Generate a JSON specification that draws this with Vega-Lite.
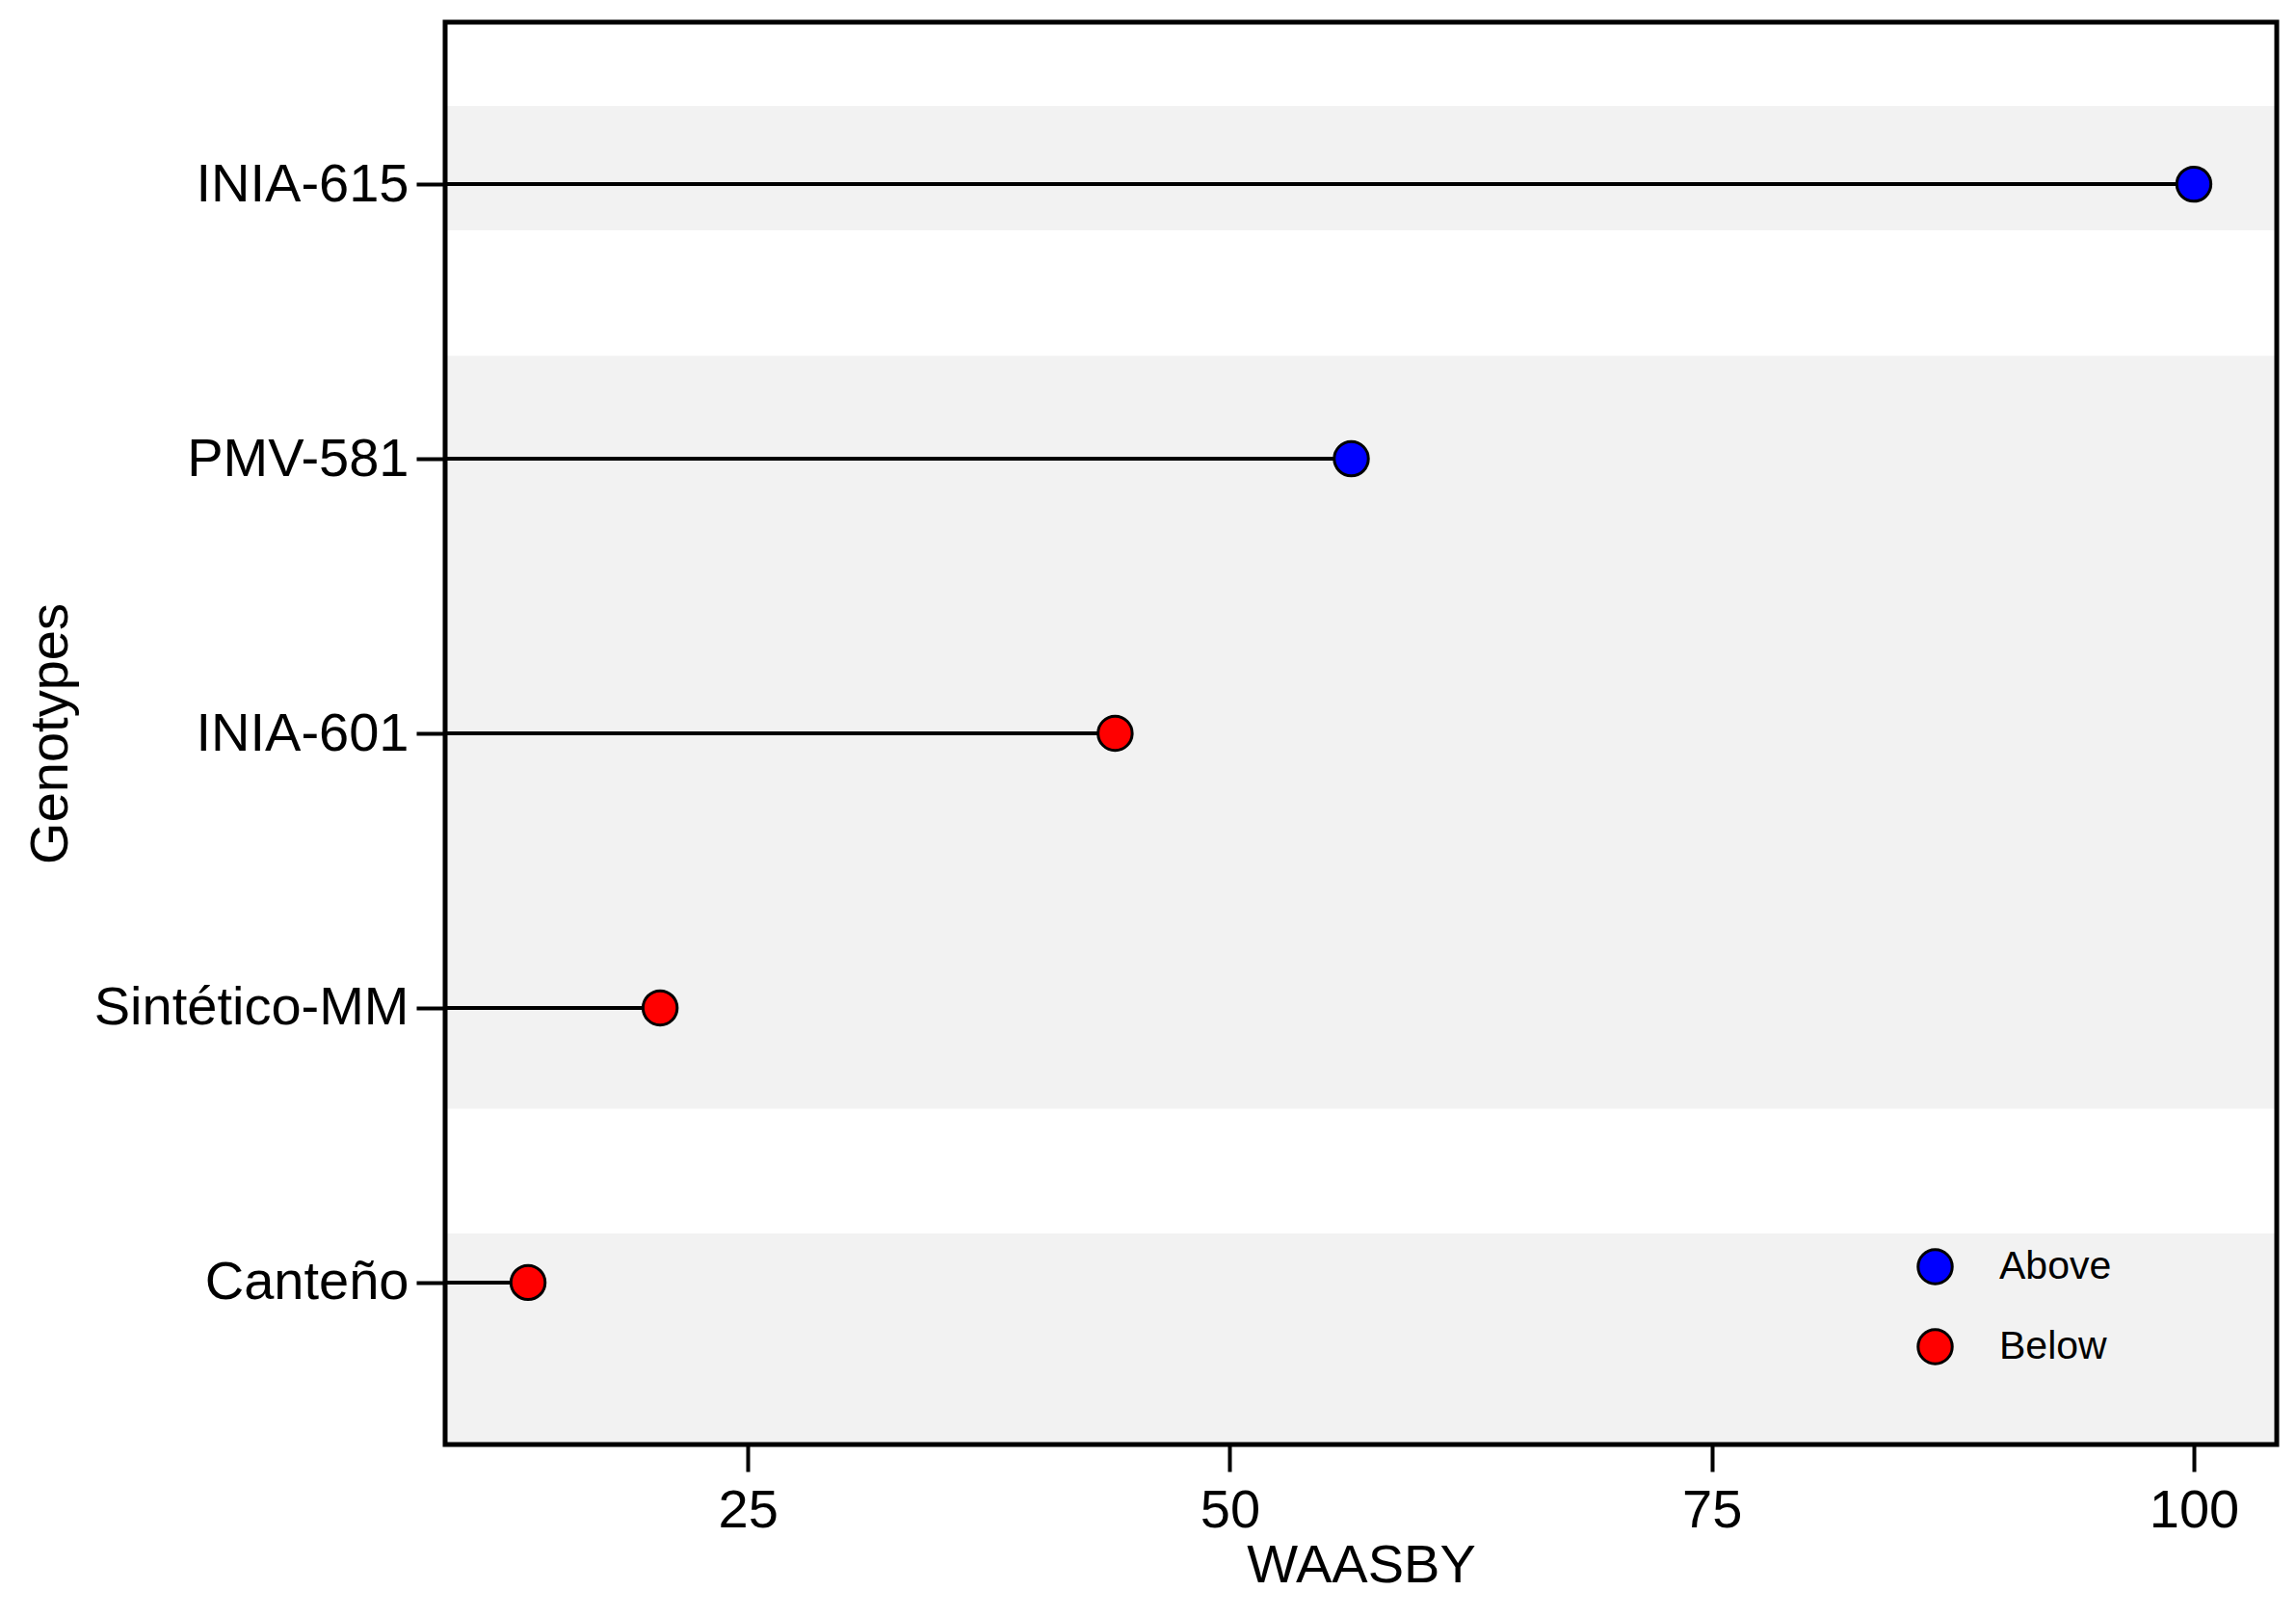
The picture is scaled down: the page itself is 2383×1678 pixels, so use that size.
{
  "$schema": "https://vega.github.io/schema/vega-lite/v6.json",
  "width": 1901,
  "height": 1476,
  "autosize": "none",
  "padding": {"left": 462, "top": 23, "right": 20, "bottom": 179},
  "background": "white",
  "config": {
    "view": {"stroke": null},
    "font": "Liberation Sans",
    "axis": {
      "domain": false,
      "grid": false,
      "tickColor": "black",
      "tickWidth": 4,
      "labelColor": "black",
      "titleColor": "black",
      "labelFont": "Liberation Sans",
      "titleFont": "Liberation Sans",
      "labelFontSize": 56,
      "titleFontSize": 56,
      "titleFontWeight": "normal",
      "labelLimit": 1000
    },
    "legend": {
      "orient": "none",
      "legendX": 1526,
      "legendY": 1271,
      "padding": 0,
      "symbolType": "circle",
      "symbolSize": 1257,
      "symbolStrokeColor": "black",
      "symbolStrokeWidth": 3,
      "labelFont": "Liberation Sans",
      "labelFontSize": 41,
      "labelColor": "black",
      "labelOffset": 46,
      "rowPadding": 34
    }
  },
  "datasets": {
    "geno": [
      {"Genotype": "INIA-615", "WAASBY": 100, "Group": "Above"},
      {"Genotype": "PMV-581", "WAASBY": 56.3, "Group": "Above"},
      {"Genotype": "INIA-601", "WAASBY": 44.05, "Group": "Below"},
      {"Genotype": "Sintético-MM", "WAASBY": 20.45, "Group": "Below"},
      {"Genotype": "Canteño", "WAASBY": 13.6, "Group": "Below"}
    ],
    "bands": [
      {"ymin": 4.832, "ymax": 5.285},
      {"ymin": 1.633, "ymax": 4.375},
      {"ymin": 0.2, "ymax": 1.179}
    ]
  },
  "layer": [
    {
      "data": {"name": "bands"},
      "mark": {"type": "rect", "color": "#f2f2f2", "clip": true},
      "encoding": {
        "y": {"field": "ymin", "type": "quantitative", "scale": {"domain": [0.41, 5.59], "nice": false, "zero": false}, "axis": null},
        "y2": {"field": "ymax"}
      }
    },
    {
      "data": {"name": "geno"},
      "encoding": {
        "y": {
          "field": "Genotype",
          "type": "nominal",
          "sort": ["INIA-615", "PMV-581", "INIA-601", "Sintético-MM", "Canteño"],
          "scale": {"type": "point", "padding": 0.59},
          "axis": {"title": "Genotypes", "orient": "left", "tickSize": 30, "labelPadding": 8, "titleX": -381, "titleY": 738}
        }
      },
      "layer": [
        {
          "mark": {"type": "rule", "color": "black", "strokeWidth": 4, "clip": true},
          "encoding": {
            "x": {"field": "WAASBY", "type": "quantitative", "scale": {"domain": [9.3, 104.3], "nice": false, "zero": false},
                  "axis": {"title": "WAASBY", "values": [25, 50, 75, 100], "tickSize": 28, "labelPadding": 13, "titlePadding": 2}},
            "x2": {"datum": 0}
          }
        },
        {
          "mark": {"type": "point", "filled": true, "size": 1257, "stroke": "black", "strokeWidth": 3, "opacity": 1},
          "encoding": {
            "x": {"field": "WAASBY", "type": "quantitative"},
            "fill": {"field": "Group", "type": "nominal", "scale": {"domain": ["Above", "Below"], "range": ["#0000ff", "#ff0000"]}, "legend": {"title": null}}
          }
        }
      ]
    },
    {
      "data": {"values": [{}]},
      "mark": {"type": "rect", "filled": false, "fill": null, "stroke": "black", "strokeWidth": 5},
      "encoding": {}
    }
  ],
  "resolve": {"scale": {"y": "independent"}}
}
